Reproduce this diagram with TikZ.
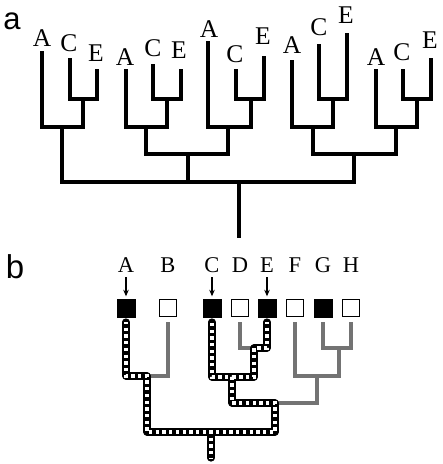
\documentclass[tikz,border=0pt]{standalone}
\usepackage{fontspec}
\setmainfont{Liberation Serif}
\newfontfamily\labsans{Liberation Sans}
\usetikzlibrary{arrows.meta}
\tikzset{
  treeA/.style={line width=3.6pt, black},
  lab/.style={inner sep=0pt, anchor=base, font=\fontsize{25.5}{30}\selectfont},
  labB/.style={inner sep=0pt, anchor=base, font=\fontsize{22.5}{26}\selectfont},
  panel/.style={inner sep=0pt, anchor=base, font=\labsans\fontsize{31}{36}\selectfont},
  fullbox/.style={rectangle, minimum size=19pt, inner sep=0pt, fill=black},
  emptybox/.style={rectangle, minimum size=17pt, inner sep=0pt, draw=black, line width=1.8pt, fill=white},
  pointer/.style={line width=1.2pt, -{Stealth[length=6.5pt,width=5.5pt]}, shorten <=5pt, shorten >=2pt},
  grayline/.style={line width=3.2pt, black!55},
  blackline/.style={line width=7.2pt, black, line cap=round, line join=round},
  whitedots/.style={line width=3.3pt, white, line cap=butt, dash pattern=on 3.3pt off 3.4pt, dash phase=1pt}
}
\begin{document}
\begin{tikzpicture}[x=1pt, y=-1pt]
\useasboundingbox (0,0) rectangle (443,464);
% ---------- panel a ----------
\node[panel] (pa) at (12,29) {a};
% leaf tops
\coordinate (a1A) at (42,51);  \coordinate (a1C) at (70,58);  \coordinate (a1E) at (97,69);
\coordinate (a2A) at (126,69); \coordinate (a2C) at (153,64); \coordinate (a2E) at (181,69);
\coordinate (a3A) at (208,41); \coordinate (a3C) at (236,69); \coordinate (a3E) at (264,56);
\coordinate (a4A) at (292,60); \coordinate (a4C) at (319,44); \coordinate (a4E) at (347,33);
\coordinate (a5A) at (376,69); \coordinate (a5C) at (403,69); \coordinate (a5E) at (431,58);
% labels
\node[lab] (l1A) at (42,46) {A};  \node[lab] (l1C) at (69,51) {C};  \node[lab] (l1E) at (96,61) {E};
\node[lab] (l2A) at (125,65) {A}; \node[lab] (l2C) at (153,56) {C}; \node[lab] (l2E) at (179,58) {E};
\node[lab] (l3A) at (209,37) {A}; \node[lab] (l3C) at (235,62) {C}; \node[lab] (l3E) at (263,44) {E};
\node[lab] (l4A) at (292,53) {A}; \node[lab] (l4C) at (319,35) {C}; \node[lab] (l4E) at (346,23) {E};
\node[lab] (l5A) at (376,65) {A}; \node[lab] (l5C) at (402,60) {C}; \node[lab] (l5E) at (430,48) {E};
% junctions
\coordinate (a1ce) at (83,99);  \coordinate (a1j) at (62,127);
\coordinate (a2ce) at (167,99); \coordinate (a2j) at (146,127);
\coordinate (a3ce) at (251,99); \coordinate (a3j) at (228,127);
\coordinate (a4ce) at (333,99); \coordinate (a4j) at (313,127);
\coordinate (a5ce) at (417,99); \coordinate (a5j) at (396,127);
\coordinate (a23) at (188,154); \coordinate (a45) at (354,154);
\coordinate (a123) at (124,182); \coordinate (atop) at (239,182);
\coordinate (aroot) at (239,238);
\foreach \g in {1,...,5}{
  \draw[treeA] (a\g C) |- (a\g ce) -| (a\g E);
  \draw[treeA] (a\g A) |- (a\g j) -| (a\g ce);
}
\draw[treeA] (a2j) |- (a23) -| (a3j);
\draw[treeA] (a4j) |- (a45) -| (a5j);
\draw[treeA] (a1j) |- (a123) -| (a23);
\draw[treeA] (a123) -- (atop) -| (a45);
\draw[treeA] (atop) -- (aroot);
% ---------- panel b ----------
\node[panel, font=\labsans\fontsize{33}{38}\selectfont] (pb) at (15,278) {b};
\foreach \n/\x in {A/126,B/168,C/212,D/240,E/267,F/295,G/323,H/351}{
  \node[labB] (lb\n) at (\x,272) {\n};
  \coordinate (t\n) at (\x,322);
}
\node[fullbox]  (bxA) at (126,308) {};
\node[emptybox] (bxB) at (168,308) {};
\node[fullbox]  (bxC) at (212,308) {};
\node[emptybox] (bxD) at (240,308) {};
\node[fullbox]  (bxE) at (267,308) {};
\node[emptybox] (bxF) at (295,308) {};
\node[fullbox]  (bxG) at (323,308) {};
\node[emptybox] (bxH) at (351,308) {};
\draw[pointer] (lbA.south) -- (bxA.north);
\draw[pointer] (lbC.south) -- (bxC.north);
\draw[pointer] (lbE.south) -- (bxE.north);
% junctions
\coordinate (jAB) at (147,376);
\coordinate (jDE) at (254,348);
\coordinate (jCDE) at (232,377);
\coordinate (jGH) at (339,348);
\coordinate (jFGH) at (317,376);
\coordinate (jCF) at (275,403);
\coordinate (jroot) at (211,432);
\coordinate (broot) at (211,458);
% gray branches
\draw[grayline] (tB) |- (jAB);
\draw[grayline] (tD) |- (jDE);
\draw[grayline] (tG) |- (jGH) -| (tH);
\draw[grayline] (tF) |- (jFGH) -| (jGH);
\draw[grayline] (jFGH) |- (jCF);
% highlighted lineages
\draw[blackline] (tA) |- (jAB) |- (jroot) -| (jCF) -| (jCDE) -| (tC);
\draw[blackline] (tE) |- (jDE) |- (jCDE);
\draw[blackline] (jroot) -- (broot);
\draw[whitedots] (tA) |- (jAB) |- (jroot) -| (jCF) -| (jCDE) -| (tC);
\draw[whitedots] (tE) |- (jDE) |- (jCDE);
\draw[whitedots] (jroot) -- (broot);
\end{tikzpicture}
\end{document}
